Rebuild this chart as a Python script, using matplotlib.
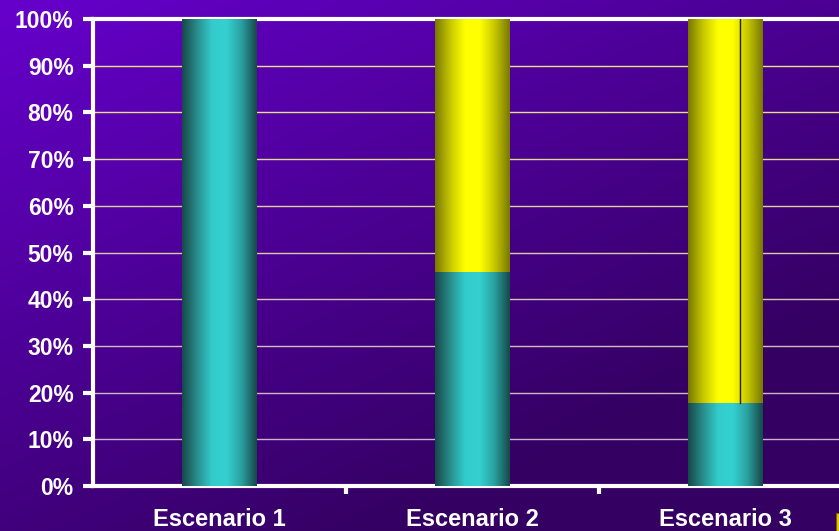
import numpy as np
import matplotlib.pyplot as plt
from matplotlib.colors import LinearSegmentedColormap

# Data (share of each scenario, %)
categories = ["Escenario 1", "Escenario 2", "Escenario 3"]
teal_share = [100.0, 45.8, 17.8]
yellow_share = [0.0, 54.2, 82.2]
y_ticks = list(range(0, 101, 10))

plt.rcParams['font.family'] = ['Liberation Sans', 'DejaVu Sans']

fig = plt.figure(figsize=(8.39, 5.31), dpi=100)

# purple gradient background
bg = fig.add_axes([0, 0, 1, 1], zorder=-10)
gx, gy = np.meshgrid(np.linspace(0, 1, 200), np.linspace(0, 1, 200))
t = np.clip(0.55 * gx + 0.75 * gy, 0, 1)
c0 = np.array([102, 0, 204]) / 255
c1 = np.array([52, 0, 98]) / 255
img = c0[None, None, :] * (1 - t[..., None]) + c1[None, None, :] * t[..., None]
bg.imshow(img, aspect='auto', extent=[0, 1, 0, 1], origin='upper')
bg.axis('off')

W, H = 839, 531
ax = fig.add_axes([93 / W, 45 / H, 759 / W, 467 / H])
ax.patch.set_alpha(0)

x = np.arange(len(categories))
width = 0.296

teal_cmap = LinearSegmentedColormap.from_list(
    'teal', ['#174a4a', '#2a8e8e', '#33cccc', '#35d0d0', '#2ba0a0', '#174a4a'])
yellow_cmap = LinearSegmentedColormap.from_list(
    'yel', ['#7a7a00', '#c8c800', '#ffff00', '#ffff00', '#c8c800', '#7a7a00'])

bars_t = ax.bar(x, teal_share, width, color='none', zorder=3)
bars_y = ax.bar(x, yellow_share, width, bottom=teal_share, color='none', zorder=3)

grad = np.linspace(0, 1, 64).reshape(1, -1)
for bars, cmap in [(bars_t, teal_cmap), (bars_y, yellow_cmap)]:
    for b in bars:
        if b.get_height() <= 0:
            continue
        x0, y0 = b.get_x(), b.get_y()
        ax.imshow(grad, cmap=cmap, aspect='auto', interpolation='bilinear',
                  extent=[x0, x0 + b.get_width(), y0, y0 + b.get_height()], zorder=3)

# thin dark seam in the third yellow segment
b = bars_y[2]
ax.plot([b.get_x() + b.get_width() * 0.69] * 2, [b.get_y(), b.get_y() + b.get_height()],
        color='#202000', lw=1, zorder=4)

# gridlines, yellow at top fading to lavender
top_c = np.array([235, 235, 120]) / 255
bot_c = np.array([200, 170, 215]) / 255
for v in y_ticks[1:-1]:
    f = v / 100
    ax.axhline(v, color=top_c * f + bot_c * (1 - f), lw=1, zorder=1)

ax.set_xlim(-0.5, 2.5)
ax.set_ylim(0, 100)
ax.set_yticks(y_ticks)
ax.set_yticklabels([f"{v}%" for v in y_ticks])
ax.set_xticks(x)
ax.set_xticklabels(categories)
ax.set_xticks(np.arange(0.5, len(categories), 1), minor=True)

for s in ['left', 'bottom', 'top']:
    ax.spines[s].set_color('white')
    ax.spines[s].set_linewidth(3)
ax.spines['right'].set_visible(False)

ax.tick_params(axis='y', colors='white', labelsize=16.5, length=7, width=3, pad=7)
ax.tick_params(axis='x', which='major', colors='white', labelsize=17, length=0, pad=16)
ax.tick_params(axis='x', which='minor', colors='white', length=6, width=3)
for lab in ax.get_yticklabels() + ax.get_xticklabels():
    lab.set_fontweight('bold')

# clipped legend marker at lower right
fig.patches.append(plt.Rectangle((836 / W, 0), 6 / W, 18 / H, transform=fig.transFigure,
                                 facecolor='#e8c800', edgecolor='#806000', lw=0.8))

fig.savefig('out.png', dpi=100)
